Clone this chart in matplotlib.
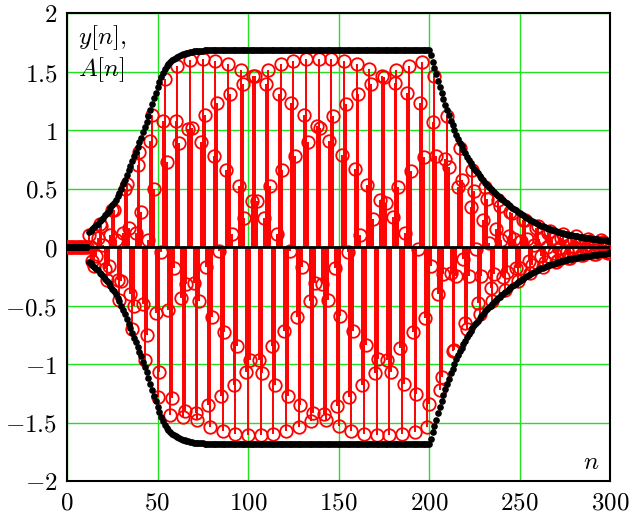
import matplotlib
matplotlib.use("Agg")
import matplotlib.pyplot as plt
import numpy as np
from matplotlib.ticker import FuncFormatter, MultipleLocator

plt.rcParams["mathtext.fontset"] = "cm"

# envelope A[n]
A_quiet = [0.0] * 12  # n = 0..11
A_rise = [
    0.13, 0.14, 0.155, 0.17, 0.185, 0.20, 0.22, 0.235, 0.25, 0.27,
    0.29, 0.31, 0.33, 0.355, 0.38, 0.405, 0.435, 0.465, 0.50, 0.535,
    0.575, 0.615, 0.655, 0.695, 0.735, 0.775, 0.815, 0.855, 0.895, 0.935,
    0.98, 1.025, 1.07, 1.12, 1.17, 1.22, 1.27, 1.32, 1.37, 1.41,
    1.45, 1.49, 1.52, 1.545, 1.565, 1.58, 1.595, 1.605, 1.615, 1.625,
    1.632, 1.64, 1.646, 1.652, 1.657, 1.661, 1.665, 1.668, 1.671, 1.673,
    1.675, 1.677, 1.678, 1.679,
]  # n = 12..75
A_flat = [1.68] * 125  # n = 76..200
A_decay = [
    1.64, 1.58, 1.53, 1.475, 1.42, 1.37, 1.32, 1.265, 1.215, 1.17,
    1.125, 1.08, 1.04, 1.0, 0.96, 0.925, 0.89, 0.86, 0.83, 0.80,
    0.77, 0.745, 0.72, 0.695, 0.67, 0.65, 0.63, 0.61, 0.59, 0.57,
    0.55, 0.53, 0.515, 0.50, 0.485, 0.47, 0.455, 0.44, 0.425, 0.41,
    0.40, 0.385, 0.372, 0.36, 0.347, 0.335, 0.323, 0.312, 0.30, 0.29,
    0.28, 0.27, 0.26, 0.25, 0.24, 0.231, 0.222, 0.213, 0.205, 0.197,
    0.19, 0.183, 0.176, 0.17, 0.164, 0.158, 0.152, 0.147, 0.142, 0.137,
    0.132, 0.127, 0.122, 0.118, 0.114, 0.11, 0.106, 0.103, 0.1, 0.097,
    0.094, 0.091, 0.088, 0.085, 0.082, 0.08, 0.078, 0.075, 0.073, 0.071,
    0.069, 0.067, 0.065, 0.063, 0.061, 0.059, 0.058, 0.056, 0.055, 0.053,
]  # n = 201..300

# stem values y[n] (red circles)
y_quiet = [0.0] * 12  # n = 0..11
y_rise = [
    0.10, 0.00, -0.12, -0.16, -0.08, 0.08, 0.20, 0.18,
    0.02, -0.19, -0.28, -0.16, 0.10, 0.32, 0.32, 0.06, -0.28, -0.45,
    -0.29, 0.12, 0.50, 0.54, 0.16, -0.40, -0.70, -0.50, 0.12, 0.70,
    0.81, 0.30, -0.49, -0.97, -0.75, 0.06, 0.91,
    1.13, 0.50, -0.56, -1.28, -1.07, -0.04, 1.08, 1.44, 0.73, -0.54,
    -1.44, -1.29, -0.18, 1.08, 1.55, 0.89, -0.44, -1.45, -1.40, -0.32,
    1.01, 1.60, 1.02, -0.31, -1.42, -1.48, -0.46, 0.90, 1.61,
]  # n = 12..75
y_flat = [
    1.13,
    -0.17, -1.35, -1.54, -0.60, 0.78, 1.59, 1.23, -0.03, -1.27, -1.57,
    -0.73, 0.66, 1.56, 1.31, 0.11, -1.18, -1.60, -0.85, 0.52, 1.51,
    1.39, 0.25, -1.07, -1.61, -0.97, 0.39, 1.46, 1.46, 0.39, -0.97,
    -1.61, -1.08, 0.25, 1.39, 1.51, 0.52, -0.85, -1.60, -1.18, 0.11,
    1.31, 1.56, 0.66, -0.72, -1.57, -1.27, -0.03, 1.23, 1.59, 0.78,
    -0.60, -1.54, -1.35, -0.17, 1.13, 1.61, 0.90, -0.46, -1.49, -1.42,
    -0.31, 1.03, 1.61, 1.02, -0.32, -1.43, -1.48, -0.45, 0.91, 1.61,
    1.12, -0.18, -1.36, -1.53, -0.59, 0.79, 1.59, 1.22, -0.04, -1.28,
    -1.57, -0.72, 0.67, 1.56, 1.31, 0.10, -1.18, -1.60, -0.84, 0.53,
    1.52, 1.39, 0.24, -1.08, -1.61, -0.96, 0.40, 1.46, 1.45, 0.38,
    -0.97, -1.61, -1.07, 0.26, 1.40, 1.51, 0.51, -0.86, -1.60, -1.17,
    0.12, 1.32, 1.55, 0.65, -0.73, -1.58, -1.26, -0.02, 1.23, 1.58,
    0.77, -0.61, -1.54, -1.34,
]  # n = 76..200
y_decay = [
    -0.16, 1.07, 1.46, 0.78, -0.40, -1.22, -1.11, -0.23, 0.75, 1.12,
    0.68, -0.22, -0.89, -0.88, -0.25, 0.51, 0.85, 0.57, -0.10, -0.65,
    -0.70, -0.25, 0.34, 0.66, 0.48, -0.02, -0.48, -0.57, -0.25, 0.23,
    0.51, 0.41, 0.03, -0.35, -0.46, -0.23, 0.15, 0.40, 0.35, 0.06,
    -0.26, -0.37, -0.21, 0.09, 0.30, 0.29, 0.07, -0.18, -0.29, -0.18,
    0.05, 0.23, 0.23, 0.07, -0.12, -0.22, -0.15, 0.02, 0.16, 0.18,
    0.07, -0.08, -0.17, -0.13, 0.00, 0.12, 0.14, 0.07, -0.05, -0.13,
    -0.11, -0.01, 0.08, 0.11, 0.06, -0.03, -0.09, -0.09, -0.02, 0.06,
    0.09, 0.05, -0.02, -0.07, -0.07, -0.02, 0.04, 0.07, 0.05, -0.01,
    -0.06, -0.06, -0.02, 0.03, 0.06, 0.04, 0.00, -0.04, -0.05, -0.02,
]  # n = 201..300

A = np.array(A_quiet + A_rise + A_flat + A_decay)
y = np.array(y_quiet + y_rise + y_flat + y_decay)
n = np.arange(len(A))

GREEN = "#22e022"

fig = plt.figure(figsize=(6.29, 5.17), dpi=100)
ax = fig.add_axes([67 / 629, 36 / 517, 543 / 629, 468 / 517])

markers, stems, base = ax.stem(n, y, linefmt="r-", markerfmt="o", basefmt="k-")
plt.setp(stems, linewidth=1.4, color="red", zorder=2)
plt.setp(markers, markersize=9, markerfacecolor="none",
         markeredgecolor="red", markeredgewidth=1.3, zorder=3)
plt.setp(base, linewidth=2.0, color="black", zorder=4)

ax.plot(n, A, "ko", markersize=4.8, markeredgewidth=0, zorder=5)
ax.plot(n, -A, "ko", markersize=4.8, markeredgewidth=0, zorder=5)

ax.set_xlim(0, 300)
ax.set_ylim(-2, 2)
ax.xaxis.set_major_locator(MultipleLocator(50))
ax.yaxis.set_major_locator(MultipleLocator(0.5))
fmt = FuncFormatter(lambda v, _: f"${v:g}$")
ax.xaxis.set_major_formatter(fmt)
ax.yaxis.set_major_formatter(fmt)
ax.tick_params(length=0, labelsize=18, pad=7)
ax.grid(True, color=GREEN, linewidth=1.0)
ax.set_axisbelow(True)
for s in ax.spines.values():
    s.set_linewidth(1.5)

ax.text(0.02, 0.978, "$y[n],$", transform=ax.transAxes, fontsize=18,
        ha="left", va="top")
ax.text(0.02, 0.91, "$A[n]$", transform=ax.transAxes, fontsize=18,
        ha="left", va="top")
ax.text(0.965, 0.04, "$n$", transform=ax.transAxes, fontsize=18,
        ha="center", va="center")

fig.savefig("out.png", dpi=100)
